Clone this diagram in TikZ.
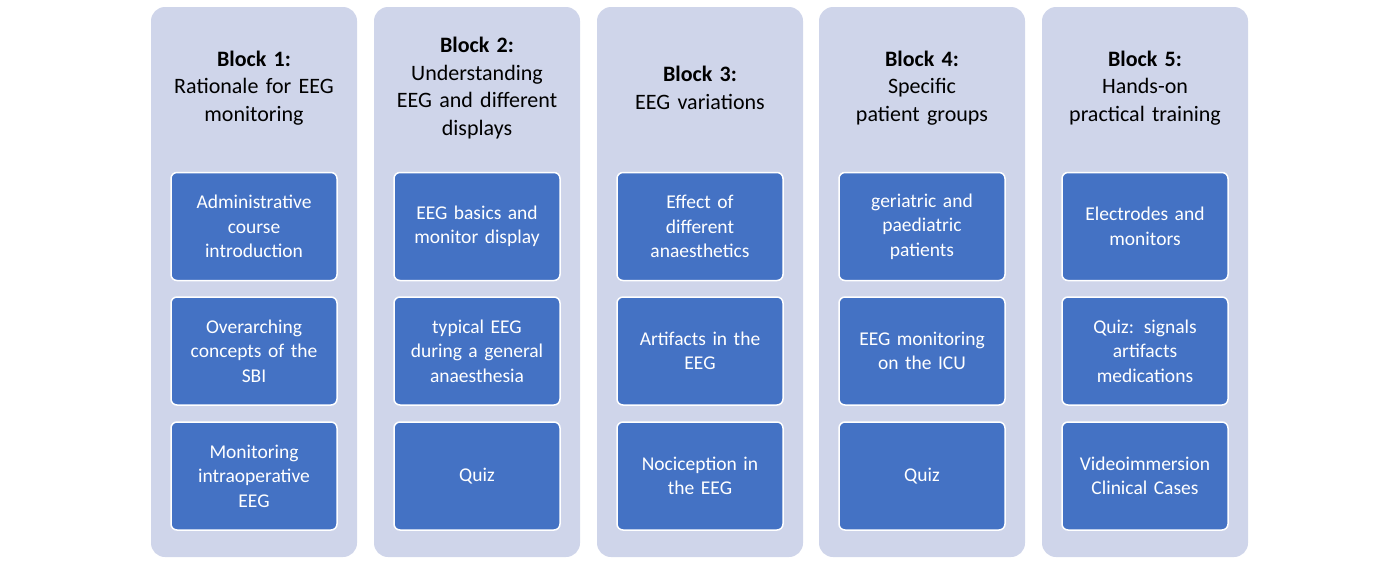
\documentclass[tikz,border=0pt]{standalone}
\usepackage{fontspec}
\setmainfont{Carlito}
\begin{document}
\begin{tikzpicture}[x=1pt,y=-1pt,
  outerbox/.style={fill={rgb,255:red,207;green,213;blue,234},draw=none,rounded corners=14pt,minimum width=206pt,minimum height=550pt,inner sep=0pt},
  innerbox/.style={fill={rgb,255:red,68;green,114;blue,196},draw=white,line width=1.5pt,rounded corners=6pt,minimum width=166pt,minimum height=108pt,text=white,font=\fontsize{19.5pt}{24.5pt}\selectfont,align=center,text width=150pt,inner sep=0pt},
  titlebox/.style={align=center,font=\fontsize{22pt}{27.5pt}\selectfont,text width=200pt,inner sep=0pt}]
\useasboundingbox (0,0) rectangle (1400,565);
\def\blk#1#2#3#4#5#6{%
  \node[outerbox] (o#1) at (#2,282) {};
  \node[titlebox] (t#1) at (#2,88) {#3};
  \node[innerbox] (a#1) at (#2,226.5) {#4};
  \node[innerbox] (b#1) at (#2,351) {#5};
  \node[innerbox] (c#1) at (#2,476) {#6};}
\blk{1}{254}{\textbf{Block 1:}\\Rationale for EEG\\monitoring}{Administrative\\course\\introduction}{Overarching\\concepts of the\\SBI}{Monitoring\\intraoperative\\EEG}
\blk{2}{477}{\textbf{Block 2:}\\Understanding\\EEG and different\\displays}{EEG basics and\\monitor display}{typical EEG\\during a general\\anaesthesia}{Quiz}
\blk{3}{700}{\textbf{Block 3:}\\EEG variations}{Effect of\\different\\anaesthetics}{Artifacts in the\\EEG}{Nociception in\\the EEG}
\blk{4}{922}{\textbf{Block 4:}\\Specific\\patient groups}{geriatric and\\paediatric\\patients}{EEG monitoring\\on the ICU}{Quiz}
\blk{5}{1145}{\textbf{Block 5:}\\Hands-on\\practical training}{Electrodes and\\monitors}{Quiz: signals\\artifacts\\medications}{Videoimmersion\\Clinical Cases}
\end{tikzpicture}
\end{document}
